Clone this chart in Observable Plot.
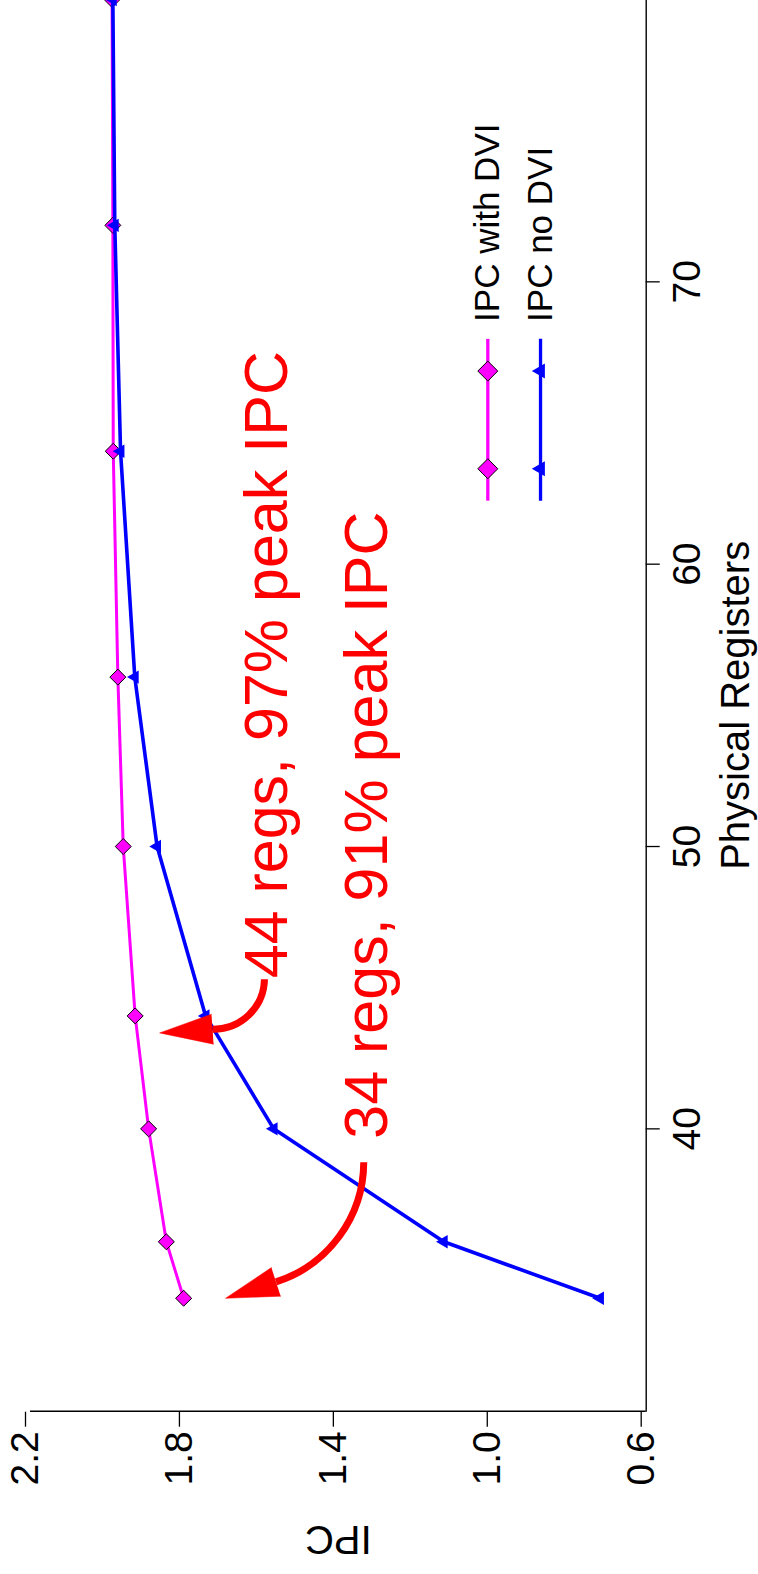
<!DOCTYPE html>
<html><head><meta charset="utf-8">
<script src="https://cdn.jsdelivr.net/npm/d3@7"></script>
<script src="https://cdn.jsdelivr.net/npm/@observablehq/plot@0.6"></script>
<style>
html,body{margin:0;padding:0;background:#fff;}
#page{position:relative;width:758px;height:1574px;overflow:hidden;background:#fff;}
#chart{position:absolute;left:0;top:0;width:1574px;height:758px;transform-origin:0 0;transform:translate(0px,1574px) rotate(-90deg);}
#chart svg{max-width:none;display:block;}
</style></head><body>
<div id="page"><div id="chart"></div></div>
<script>
// ---- data ----
const registers = [34, 36, 40, 44, 50, 56, 64, 72, 80];
const ipcWithDVI = [1.802, 1.847, 1.893, 1.928, 1.959, 1.973, 1.985, 1.986, 1.988];
const ipcNoDVI = [0.72, 1.126, 1.568, 1.745, 1.871, 1.929, 1.966, 1.981, 1.986];
const seriesNames = ["IPC with DVI", "IPC no DVI"];
const seriesColors = ["#ff00ff", "#0000ff"];
const ipcTicks = [0.6, 1.0, 1.4, 1.8, 2.2];
const registerTicks = [40, 50, 60, 70];
const xTitle = "Physical Registers";
const yTitle = "IPC";
// annotations (in data units: registers, IPC)
const noteTexts = ["44 regs, 97% peak IPC", "34 regs, 91% peak IPC"];
const noteX = [45.33, 39.65];
const noteY = [1.583, 1.3255];
const arrowStartX = [45.30, 38.82];
const arrowStartY = [1.592, 1.334];
const arrowEndX = [43.53, 34.58];
const arrowEndY = [1.727, 1.562];
const arrowBend = [45, 36];
const arrowHeadAngle = [-4, -18];
// legend placement (data units)
const legendY = [1.0116, 0.8746];
const legendLineX = [62.25, 67.98];
const legendMarkX = [63.38, 66.84];
const legendTextX = 68.58;

// ---- build ----
const fam = "'Liberation Sans', Arial, Helvetica, sans-serif";
const withData = registers.map((r, i) => ({reg: r, ipc: ipcWithDVI[i]}));
const noData = registers.map((r, i) => ({reg: r, ipc: ipcNoDVI[i]}));
const notes = noteTexts.map((t, i) => ({text: t, x: noteX[i], y: noteY[i]}));
const arrows = noteTexts.map((t, i) => ({x1: arrowStartX[i], y1: arrowStartY[i], x2: arrowEndX[i], y2: arrowEndY[i], bend: arrowBend[i], angle: arrowHeadAngle[i]}));
const legendLines = seriesNames.map((n, i) => ({name: n, y: legendY[i], x1: legendLineX[0], x2: legendLineX[1]}));
const legendMarks = seriesNames.flatMap((n, i) => legendMarkX.map(x => ({name: n, x, y: legendY[i]})));

const marks = [
  Plot.axisX(registerTicks, {tickSize: 14, tickPadding: 12, fontSize: 39, label: null, strokeWidth: 1.3}),
  Plot.axisY(ipcTicks, {tickSize: 15, tickPadding: 5, fontSize: 39, label: null, tickFormat: d3.format(".1f"), dy: -5, strokeWidth: 1.3}),
  Plot.ruleX([30], {strokeWidth: 1.4}),
  Plot.ruleY([0.6], {strokeWidth: 1.4}),
  Plot.line(withData, {x: "reg", y: "ipc", stroke: seriesColors[0], strokeWidth: 3}),
  Plot.dot(withData, {x: "reg", y: "ipc", symbol: "diamond2", r: 7.2, fill: seriesColors[0], stroke: "black", strokeWidth: 1}),
  Plot.line(noData, {x: "reg", y: "ipc", stroke: seriesColors[1], strokeWidth: 3.6}),
  Plot.dot(noData, {x: "reg", y: "ipc", symbol: "triangle", r: 5, fill: seriesColors[1], stroke: "none"}),
  Plot.text([yTitle], {text: d => d, frameAnchor: "left", textAnchor: "middle", lineAnchor: "middle", rotate: -90, dx: -127.8, fontSize: 40}),
  Plot.text([xTitle], {text: d => d, frameAnchor: "bottom", textAnchor: "middle", lineAnchor: "middle", dy: 90, fontSize: 40}),
  // legend
  Plot.link(legendLines, {x1: "x1", x2: "x2", y1: "y", y2: "y", stroke: (d) => seriesColors[seriesNames.indexOf(d.name)], strokeWidth: 3.3}),
  Plot.dot(legendMarks.filter(d => d.name === seriesNames[0]), {x: "x", y: "y", symbol: "diamond2", r: 9, fill: seriesColors[0], stroke: "black", strokeWidth: 1}),
  Plot.dot(legendMarks.filter(d => d.name === seriesNames[1]), {x: "x", y: "y", symbol: "triangle", r: 5.6, fill: seriesColors[1], stroke: "none"}),
  Plot.text(legendLines, {x: legendTextX, y: "y", text: "name", textAnchor: "start", lineAnchor: "middle", fontSize: 35}),
  // annotations
  Plot.text(notes, {x: "x", y: "y", text: "text", textAnchor: "start", lineAnchor: "middle", fontSize: 61, fill: "#ff0000"})
];
arrows.forEach(a => {
  marks.push(Plot.arrow([a], {x1: "x1", y1: "y1", x2: "x2", y2: "y2", bend: a.bend, headLength: 0, stroke: "#ff0000", strokeWidth: 7, strokeLinecap: "butt"}));
});
marks.push(Plot.vector(arrows, {x: "x2", y: "y2", rotate: "angle", length: 53, shape: "spike", r: 15, anchor: "start", fill: "#ff0000", stroke: "#ff0000", strokeWidth: 0.5}));

const svg = Plot.plot({
  width: 1574,
  height: 758,
  marginLeft: 162.3,
  marginRight: 0,
  marginTop: 30,
  marginBottom: 112.3,
  x: {domain: [30, 80]},
  y: {domain: [0.6, 2.2]},
  style: {fontFamily: fam, background: "white", color: "black", maxWidth: "none", overflow: "visible"},
  marks
});
document.getElementById("chart").appendChild(svg);
</script>
</body></html>
